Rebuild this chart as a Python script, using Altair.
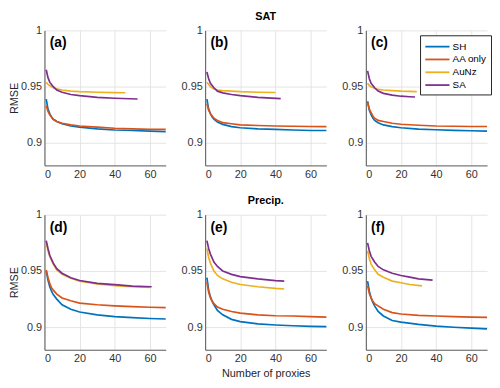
import altair as alt
import pandas as pd

SERIES = ["SH", "AA only", "AuNz", "SA"]
COLORS = ["#0072BD", "#D95319", "#EDB120", "#7E2F8E"]
PANEL_KEYS = ["a", "b", "c", "d", "e", "f"]
PANEL_LABELS = ["(a)", "(b)", "(c)", "(d)", "(e)", "(f)"]
COLUMN_TITLES = {"b": "SAT", "e": "Precip."}
X_TICKS = [0, 20, 40, 60]
Y_TICKS = [0.9, 0.95, 1]

X_FULL = [1, 2, 3, 4, 5, 7, 10, 15, 20, 30, 40, 50, 60, 69]

# ---- panel (a) ----
a_sh = [0.939, 0.930, 0.926, 0.923, 0.921, 0.919, 0.917, 0.915, 0.914, 0.9125, 0.9115, 0.911, 0.9105, 0.910]
a_aa = [0.933, 0.928, 0.925, 0.923, 0.921, 0.919, 0.9175, 0.916, 0.915, 0.914, 0.913, 0.9125, 0.912, 0.912]
a_au_x = [1, 2, 3, 5, 7, 10, 15, 20, 30, 40, 46]
a_au = [0.954, 0.952, 0.951, 0.949, 0.948, 0.947, 0.946, 0.9455, 0.945, 0.9447, 0.9446]
a_sa_x = [1, 2, 3, 5, 7, 10, 15, 20, 30, 40, 53]
a_sa = [0.965, 0.958, 0.954, 0.950, 0.947, 0.945, 0.943, 0.942, 0.9405, 0.9397, 0.939]

# ---- panel (b) ----
b_sh = [0.939, 0.930, 0.926, 0.923, 0.921, 0.9185, 0.9165, 0.9145, 0.9135, 0.9125, 0.912, 0.9115, 0.911, 0.911]
b_aa = [0.935, 0.929, 0.926, 0.924, 0.922, 0.920, 0.918, 0.917, 0.916, 0.9155, 0.915, 0.9148, 0.9146, 0.9145]
b_au_x = [1, 2, 3, 5, 7, 10, 15, 20, 30, 40]
b_au = [0.954, 0.952, 0.950, 0.948, 0.947, 0.9465, 0.946, 0.9455, 0.945, 0.9448]
b_sa_x = [1, 2, 3, 5, 7, 10, 15, 20, 30, 43]
b_sa = [0.963, 0.957, 0.953, 0.949, 0.946, 0.9445, 0.943, 0.942, 0.9405, 0.9393]

# ---- panel (c) ----
c_sh = [0.937, 0.929, 0.925, 0.922, 0.920, 0.918, 0.916, 0.9145, 0.9135, 0.9123, 0.9117, 0.9112, 0.9108, 0.9105]
c_aa = [0.936, 0.930, 0.927, 0.924, 0.922, 0.920, 0.919, 0.9175, 0.9166, 0.9157, 0.915, 0.9148, 0.9146, 0.9146]
c_au_x = [1, 2, 3, 5, 7, 10, 15, 20, 25, 29]
c_au = [0.953, 0.951, 0.950, 0.9485, 0.9475, 0.947, 0.9465, 0.946, 0.9458, 0.9456]
c_sa_x = [1, 2, 3, 5, 7, 10, 15, 20, 25, 28]
c_sa = [0.964, 0.957, 0.953, 0.949, 0.946, 0.944, 0.9425, 0.9415, 0.941, 0.9408]

# ---- panel (d) ----
d_sh = [0.950, 0.942, 0.936, 0.932, 0.929, 0.925, 0.920, 0.916, 0.9135, 0.911, 0.9095, 0.9085, 0.9078, 0.9073]
d_aa = [0.951, 0.944, 0.939, 0.935, 0.933, 0.9295, 0.926, 0.9235, 0.9215, 0.920, 0.919, 0.9183, 0.9178, 0.9175]
d_au_x = [1, 2, 3, 5, 7, 10, 15, 20, 30, 40, 50, 60]
d_au = [0.975, 0.968, 0.963, 0.956, 0.951, 0.947, 0.9435, 0.941, 0.9385, 0.937, 0.936, 0.9355]
d_sa_x = [1, 2, 3, 5, 7, 10, 15, 20, 30, 40, 50, 61]
d_sa = [0.977, 0.970, 0.964, 0.957, 0.952, 0.948, 0.944, 0.9415, 0.939, 0.9378, 0.9365, 0.936]

# ---- panel (e) ----
e_sh = [0.944, 0.933, 0.927, 0.923, 0.920, 0.915, 0.911, 0.907, 0.905, 0.903, 0.902, 0.9013, 0.9008, 0.9005]
e_aa = [0.940, 0.931, 0.926, 0.923, 0.921, 0.918, 0.916, 0.914, 0.9125, 0.911, 0.9102, 0.910, 0.9095, 0.909]
e_au_x = [1, 2, 3, 5, 7, 10, 15, 20, 30, 40, 45]
e_au = [0.970, 0.962, 0.957, 0.950, 0.946, 0.943, 0.940, 0.938, 0.936, 0.9345, 0.934]
e_sa_x = [1, 2, 3, 5, 7, 10, 15, 20, 30, 40, 45]
e_sa = [0.977, 0.970, 0.965, 0.958, 0.954, 0.950, 0.947, 0.945, 0.943, 0.9415, 0.941]

# ---- panel (f) ----
f_sh = [0.941, 0.932, 0.926, 0.922, 0.919, 0.914, 0.910, 0.906, 0.9045, 0.9025, 0.901, 0.900, 0.8992, 0.8985]
f_aa = [0.937, 0.930, 0.926, 0.923, 0.921, 0.919, 0.916, 0.913, 0.9118, 0.9105, 0.910, 0.9095, 0.909, 0.9088]
f_au_x = [1, 2, 3, 5, 7, 10, 15, 20, 25, 32]
f_au = [0.968, 0.961, 0.956, 0.951, 0.947, 0.9445, 0.941, 0.9395, 0.938, 0.9368]
f_sa_x = [1, 2, 3, 5, 7, 10, 15, 20, 25, 30, 38]
f_sa = [0.975, 0.968, 0.963, 0.958, 0.954, 0.951, 0.948, 0.946, 0.9445, 0.943, 0.9418]

PANEL_DATA = {
    "a": [(X_FULL, a_sh), (X_FULL, a_aa), (a_au_x, a_au), (a_sa_x, a_sa)],
    "b": [(X_FULL, b_sh), (X_FULL, b_aa), (b_au_x, b_au), (b_sa_x, b_sa)],
    "c": [(X_FULL, c_sh), (X_FULL, c_aa), (c_au_x, c_au), (c_sa_x, c_sa)],
    "d": [(X_FULL, d_sh), (X_FULL, d_aa), (d_au_x, d_au), (d_sa_x, d_sa)],
    "e": [(X_FULL, e_sh), (X_FULL, e_aa), (e_au_x, e_au), (e_sa_x, e_sa)],
    "f": [(X_FULL, f_sh), (X_FULL, f_aa), (f_au_x, f_au), (f_sa_x, f_sa)],
}

FONT = "Liberation Sans"
W, H = 123, 137


def panel(key, label):
    rows = []
    for s, (xs, ys) in zip(SERIES, PANEL_DATA[key]):
        for xv, yv in zip(xs, ys):
            rows.append({"series": s, "x": xv, "y": yv})
    df = pd.DataFrame(rows)

    show_y_title = key in ("a", "d")
    show_x_title = key == "e"
    show_legend = key == "c"

    x_axis = alt.Axis(values=X_TICKS, title="Number of proxies" if show_x_title else "",
                      titlePadding=4)
    y_axis = alt.Axis(values=Y_TICKS, format="~g", title="RMSE" if show_y_title else "",
                      titlePadding=1)
    if show_legend:
        legend = alt.Legend(title=None, orient="none", legendX=55, legendY=5,
                            symbolType="M-1,0H3", symbolSize=150, symbolStrokeWidth=1.8,
                            labelFontSize=10, labelFont=FONT, labelColor="#000000",
                            labelOffset=14, rowPadding=0,
                            strokeColor="#262626", fillColor="white", padding=4,
                            cornerRadius=0)
    else:
        legend = None

    lines = alt.Chart(df).mark_line(strokeWidth=1.7).encode(
        x=alt.X("x:Q", scale=alt.Scale(domain=[0, 69], nice=False), axis=x_axis),
        y=alt.Y("y:Q", scale=alt.Scale(domain=[0.88, 1], nice=False, zero=False), axis=y_axis),
        color=alt.Color("series:N", scale=alt.Scale(domain=SERIES, range=COLORS),
                        sort=SERIES, legend=legend),
    )
    text = alt.Chart(pd.DataFrame({"label": [label]})).mark_text(
        fontWeight="bold", fontSize=14, font=FONT, align="left", baseline="middle", color="#000000"
    ).encode(x=alt.datum(3), y=alt.datum(0.9885), text="label:N")

    props = dict(width=W, height=H)
    if key in COLUMN_TITLES:
        props["title"] = alt.TitleParams(COLUMN_TITLES[key], fontSize=11, fontWeight="bold",
                                         font=FONT, color="#000000", offset=3)
    return alt.layer(lines, text).properties(**props)


charts = [panel(k, l) for k, l in zip(PANEL_KEYS, PANEL_LABELS)]

chart = alt.concat(
    *charts, columns=3, spacing={"row": 50, "column": 40}, bounds="flush"
).resolve_scale(color="independent").resolve_legend(color="independent").properties(
    padding={"left": 0, "top": 0, "right": 0, "bottom": 0}
).configure_view(stroke=None).configure_axis(
    labelFont=FONT, titleFont=FONT, labelFontSize=11, titleFontSize=11,
    labelColor="#333333", titleColor="#262626", titleFontWeight="normal",
    domainColor="#555555", domainWidth=1, ticks=False, labelPadding=3,
    gridColor="#e4e4e4", gridWidth=1,
).configure_title(anchor="middle")

chart.save("out.html", embed_options={"renderer": "svg", "actions": False})
